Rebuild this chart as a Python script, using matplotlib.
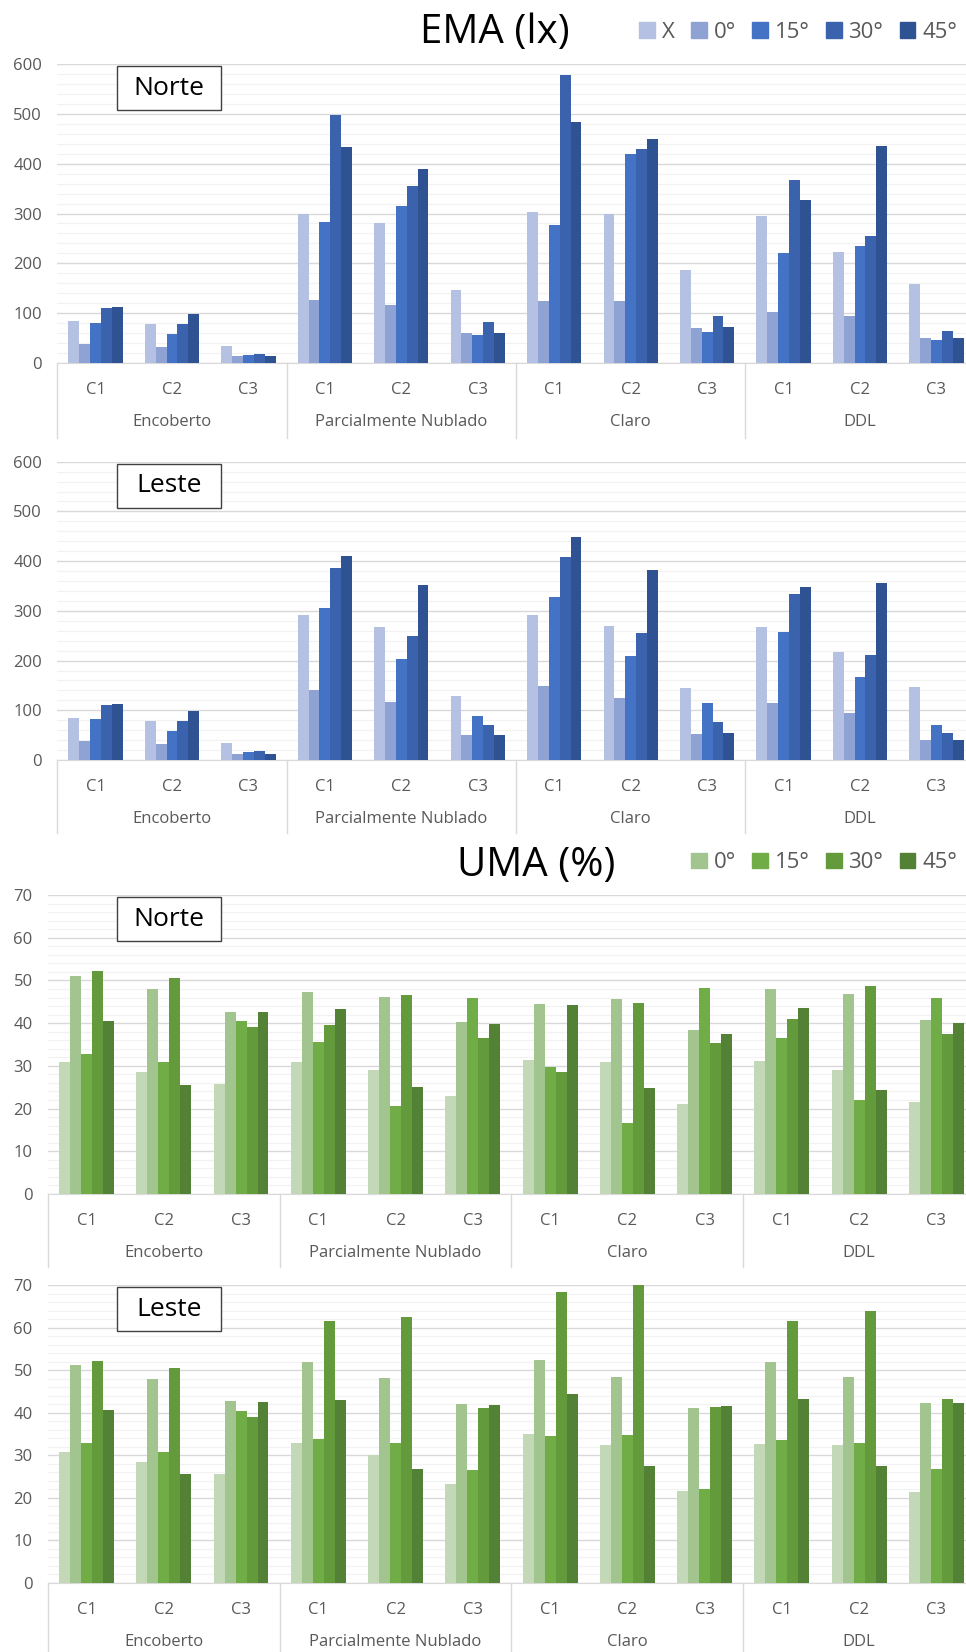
import numpy as np
import matplotlib.pyplot as plt
from matplotlib.patches import Rectangle
from matplotlib.ticker import MultipleLocator

plt.rcParams['font.family'] = ['Open Sans', 'DejaVu Sans']

groups = ['Encoberto', 'Parcialmente Nublado', 'Claro', 'DDL']
cases = ['C1', 'C2', 'C3']
ema_labels = ['X', '0°', '15°', '30°', '45°']
uma_labels = ['', '0°', '15°', '30°', '45°']

# EMA (lx), Norte
ema_norte_x = [84, 78, 33, 298, 281, 147, 304, 298, 186, 294, 223, 158]
ema_norte_0 = [38, 31, 13, 127, 117, 59, 124, 125, 70, 102, 94, 49]
ema_norte_15 = [80, 58, 15, 282, 316, 56, 276, 420, 62, 220, 234, 46]
ema_norte_30 = [109, 78, 18, 498, 355, 81, 578, 430, 94, 367, 254, 64]
ema_norte_45 = [111, 97, 14, 434, 389, 59, 483, 450, 72, 327, 436, 49]

# EMA (lx), Leste
ema_leste_x = [85, 79, 34, 292, 267, 129, 292, 270, 145, 267, 218, 146]
ema_leste_0 = [38, 32, 13, 141, 117, 50, 149, 124, 52, 115, 95, 40]
ema_leste_15 = [82, 59, 17, 305, 204, 89, 327, 210, 115, 257, 166, 70]
ema_leste_30 = [111, 79, 19, 387, 250, 70, 408, 255, 76, 333, 212, 54]
ema_leste_45 = [113, 98, 13, 410, 353, 50, 449, 383, 55, 347, 356, 40]

# UMA (%), Norte
uma_norte_x = [30.8, 28.6, 25.8, 30.8, 29.0, 23.0, 31.3, 30.8, 21.0, 31.1, 29.0, 21.5]
uma_norte_0 = [51.1, 47.9, 42.5, 47.3, 46.1, 40.3, 44.4, 45.7, 38.4, 47.9, 46.8, 40.7]
uma_norte_15 = [32.7, 30.8, 40.4, 35.5, 20.5, 45.8, 29.7, 16.6, 48.2, 36.5, 22.0, 46.0]
uma_norte_30 = [52.1, 50.5, 39.1, 39.6, 46.7, 36.5, 28.6, 44.8, 35.4, 40.9, 48.7, 37.5]
uma_norte_45 = [40.6, 25.5, 42.5, 43.2, 25.1, 39.7, 44.3, 24.9, 37.4, 43.5, 24.4, 40.1]

# UMA (%), Leste
uma_leste_x = [30.7, 28.5, 25.7, 33.0, 30.1, 23.2, 34.9, 32.4, 21.5, 32.7, 32.4, 21.3]
uma_leste_0 = [51.1, 47.9, 42.8, 52.0, 48.2, 42.0, 52.4, 48.4, 41.2, 51.8, 48.3, 42.2]
uma_leste_15 = [32.8, 30.8, 40.4, 33.8, 33.0, 26.6, 34.6, 34.7, 22.1, 33.5, 33.0, 26.7]
uma_leste_30 = [52.1, 50.6, 39.1, 61.5, 62.6, 41.2, 68.3, 70.2, 41.3, 61.5, 63.9, 43.2]
uma_leste_45 = [40.6, 25.7, 42.4, 42.9, 26.7, 41.8, 44.5, 27.5, 41.6, 43.2, 27.6, 42.2]

blues = ['#b4c1e3', '#8fa2d4', '#4472c4', '#3a62ad', '#2f5292']
greens = ['#c3d8b6', '#a2c48f', '#70ad47', '#629a3c', '#538135']

W, H = 966, 1652
fig = plt.figure(figsize=(W / 100, H / 100), dpi=100)


def px_axes(left, right, top, bottom):
    return fig.add_axes([left / W, 1 - bottom / H, (right - left) / W, (bottom - top) / H])


def draw_panel(ax, series, colors, ymax, ystep, tag, sep_depth):
    n = len(series)
    x = np.arange(len(groups) * len(cases))
    w = 0.71 / n
    for i, vals in enumerate(series):
        ax.bar(x + (i - (n - 1) / 2) * w, vals, width=w, color=colors[i],
               linewidth=0, zorder=3)
    ax.set_xlim(-0.5, len(x) - 0.5)
    ax.set_ylim(0, ymax)
    ax.yaxis.set_major_locator(MultipleLocator(ystep))
    ax.yaxis.set_minor_locator(MultipleLocator(ystep / 5))
    ax.grid(axis='y', which='major', color='#d9d9d9', lw=1.0, zorder=0)
    ax.grid(axis='y', which='minor', color='#f2f2f2', lw=0.9, zorder=0)
    for s in ['top', 'right', 'left']:
        ax.spines[s].set_visible(False)
    ax.spines['bottom'].set_color('#d9d9d9')
    ax.tick_params(axis='y', which='both', length=0, pad=11, labelsize=12,
                   labelcolor='#595959')
    ax.tick_params(axis='x', length=0, pad=14, labelsize=12, labelcolor='#595959')
    ax.set_xticks(x)
    ax.set_xticklabels(cases * len(groups))

    # second level of the category axis
    tr = ax.get_xaxis_transform()
    hpx = ax.get_position().height * H
    for g, name in enumerate(groups):
        ax.text(g * 3 + 1, -59 / hpx, name, transform=tr, ha='center', va='center',
                fontsize=12, color='#595959')
    for b in range(len(groups) + 1):
        ax.plot([b * 3 - 0.5] * 2, [0, -sep_depth / hpx], transform=tr,
                color='#d9d9d9', lw=1.0, clip_on=False)

    # Norte / Leste tag box
    pos = ax.get_position()
    top_px = (1 - (pos.y0 + pos.height)) * H
    fig.patches.append(Rectangle((117 / W, 1 - (top_px + 46) / H), 104 / W, 44 / H,
                                 transform=fig.transFigure, fill=True, fc='white',
                                 ec='#404040', lw=1.0, zorder=5))
    fig.text(169 / W, 1 - (top_px + 24) / H, tag, ha='center', va='center',
             fontsize=19, color='black', zorder=6)


ax1 = px_axes(57.3, 974.7, 64.3, 362.7)
draw_panel(ax1, [ema_norte_x, ema_norte_0, ema_norte_15, ema_norte_30, ema_norte_45],
           blues, 600, 100, 'Norte', 75)
ax2 = px_axes(57.3, 974.7, 461.7, 760)
draw_panel(ax2, [ema_leste_x, ema_leste_0, ema_leste_15, ema_leste_30, ema_leste_45],
           blues, 600, 100, 'Leste', 73)
ax3 = px_axes(47.9, 975, 895, 1194)
draw_panel(ax3, [uma_norte_x, uma_norte_0, uma_norte_15, uma_norte_30, uma_norte_45],
           greens, 70, 10, 'Norte', 73)
ax4 = px_axes(47.9, 975, 1285, 1583)
draw_panel(ax4, [uma_leste_x, uma_leste_0, uma_leste_15, uma_leste_30, uma_leste_45],
           greens, 70, 10, 'Leste', 80)

fig.text(495 / W, 1 - 33 / H, 'EMA (lx)', ha='center', va='center', fontsize=29)
fig.text(536 / W, 1 - 866 / H, 'UMA (%)', ha='center', va='center', fontsize=29)

# legends
leg_kw = dict(frameon=False, fontsize=16, labelcolor='#595959', handlelength=0.7,
              handleheight=0.7, handletextpad=0.3, columnspacing=0.75,
              borderpad=0, borderaxespad=0, loc='center right')
ema_handles = [Rectangle((0, 0), 1, 1, color=c) for c in blues]
fig.legend(ema_handles, ema_labels, ncol=5,
           bbox_to_anchor=(957 / W, 1 - 32 / H), **leg_kw)
uma_handles = [Rectangle((0, 0), 1, 1, color=c) for c in greens[1:]]
fig.legend(uma_handles, uma_labels[1:], ncol=4,
           bbox_to_anchor=(957 / W, 1 - 863 / H), **leg_kw)

fig.savefig('out.png', dpi=100)
